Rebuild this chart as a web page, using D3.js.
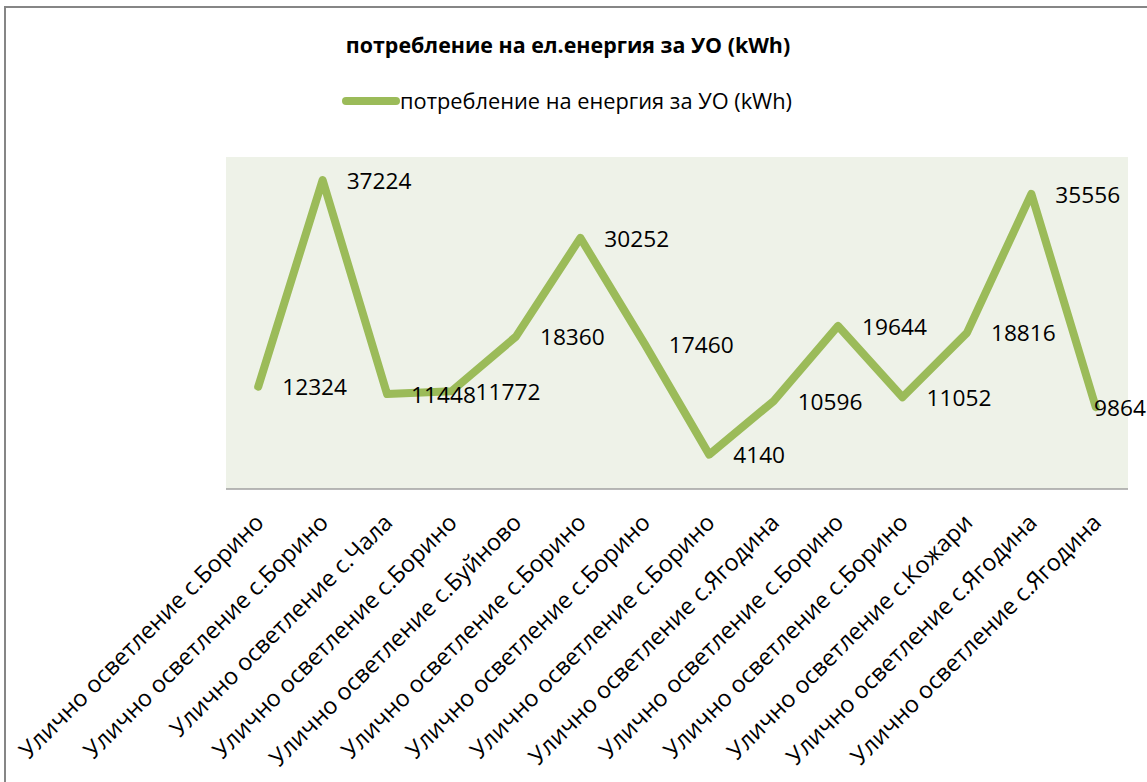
<!DOCTYPE html>
<html>
<head>
<meta charset="utf-8">
<script src="https://cdn.jsdelivr.net/npm/d3@7"></script>
<style>
  body { margin: 0; background: #fff; }
  text { font-family: "Open Sans", "Noto Sans", sans-serif; fill: #000; }
</style>
</head>
<body>
<script>
// chart data
const categories = [
  "Улично осветление с.Борино",
  "Улично осветление с.Борино",
  "Улично осветление с.Чала",
  "Улично осветление с.Борино",
  "Улично осветление с.Буйново",
  "Улично осветление с.Борино",
  "Улично осветление с.Борино",
  "Улично осветление с.Борино",
  "Улично осветление с.Ягодина",
  "Улично осветление с.Борино",
  "Улично осветление с.Борино",
  "Улично осветление с.Кожари",
  "Улично осветление с.Ягодина",
  "Улично осветление с.Ягодина"
];
const values = [12324, 37224, 11448, 11772, 18360, 30252, 17460, 4140, 10596, 19644, 11052, 18816, 35556, 9864];
const seriesName = "потребление на енергия за УО (kWh)";
const chartTitle = "потребление на ел.енергия за УО (kWh)";
const yDomain = [0, 40000];

const width = 1147, height = 782;
const plot = { left: 226, right: 1128, top: 157, bottom: 489 };
const green = "#9bbb59";

const svg = d3.select("body").append("svg")
    .attr("width", width)
    .attr("height", height);

// outer chart border (right and bottom run past the picture)
svg.append("rect")
    .attr("x", 5).attr("y", 7)
    .attr("width", 1170).attr("height", 800)
    .attr("fill", "#fff")
    .attr("stroke", "#868686")
    .attr("stroke-width", 2);

// scales
const x = d3.scalePoint()
    .domain(d3.range(categories.length))
    .range([plot.left, plot.right])
    .padding(0.5);
const y = d3.scaleLinear()
    .domain(yDomain)
    .range([plot.bottom, plot.top]);

// plot background
svg.append("rect")
    .attr("x", plot.left).attr("y", plot.top)
    .attr("width", plot.right - plot.left)
    .attr("height", plot.bottom - plot.top)
    .attr("fill", "#eef2e8");

// x axis line + rotated labels
svg.append("line")
    .attr("x1", plot.left).attr("x2", plot.right)
    .attr("y1", plot.bottom).attr("y2", plot.bottom)
    .attr("stroke", "#a0a0a0")
    .attr("stroke-width", 1.5);

svg.append("g").selectAll("text")
    .data(categories)
    .enter().append("text")
    .attr("transform", (d, i) => `translate(${x(i) + 7},${plot.bottom + 35}) rotate(-45)`)
    .attr("text-anchor", "end")
    .style("font-size", "23.4px")
    .text(d => d);

// the line
const line = d3.line()
    .x((d, i) => x(i))
    .y(d => y(d));

svg.append("path")
    .datum(values)
    .attr("d", line)
    .attr("fill", "none")
    .attr("stroke", green)
    .attr("stroke-width", 8)
    .attr("stroke-linejoin", "round")
    .attr("stroke-linecap", "round");

// data labels, to the right of each point, kept inside the chart
svg.append("g").selectAll("text")
    .data(values)
    .enter().append("text")
    .attr("y", d => y(d))
    .attr("dy", "0.38em")
    .style("font-size", "22.7px")
    .text(d => d)
    .attr("x", function(d, i) {
        const w = this.getComputedTextLength();
        return Math.min(x(i) + 24, width - w - 1);
    });

// title
svg.append("text")
    .attr("x", 568).attr("y", 46)
    .attr("dy", "0.35em")
    .attr("text-anchor", "middle")
    .style("font-size", "21.4px")
    .style("font-weight", "bold")
    .text(chartTitle);

// legend
svg.append("line")
    .attr("x1", 346).attr("x2", 396)
    .attr("y1", 101).attr("y2", 101)
    .attr("stroke", green)
    .attr("stroke-width", 8)
    .attr("stroke-linecap", "round");

svg.append("text")
    .attr("x", 400).attr("y", 101)
    .attr("dy", "0.35em")
    .style("font-size", "21.8px")
    .text(seriesName);
</script>
</body>
</html>
